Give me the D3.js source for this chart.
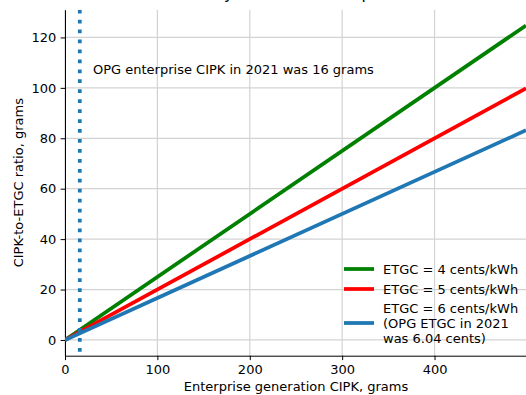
<!DOCTYPE html>
<html>
<head>
<meta charset="utf-8">
<script src="https://cdn.jsdelivr.net/npm/d3@7"></script>
<style>
  html, body { margin: 0; padding: 0; background: #fff; }
  svg { display: block; font-family: "DejaVu Sans", sans-serif; }
</style>
</head>
<body>
<svg id="chart" width="526" height="395"></svg>
<script>
// ---- data ----
const cipk = [0, 499];                 // enterprise generation CIPK, grams
const ratioEtgc4 = [0, 124.75];        // ETGC = 4 cents/kWh
const ratioEtgc5 = [0, 99.8];          // ETGC = 5 cents/kWh
const ratioEtgc6 = [0, 83.17];         // ETGC = 6 cents/kWh
const seriesNames = ["ETGC = 4 cents/kWh", "ETGC = 5 cents/kWh", "ETGC = 6 cents/kWh\n(OPG ETGC in 2021\nwas 6.04 cents)"];
const seriesColors = ["#008000", "#ff0000", "#1f77b4"];
const opgCipk2021 = 16;
const xTicks = [0, 100, 200, 300, 400];
const yTicks = [0, 20, 40, 60, 80, 100, 120];
const titleText = "Sensitivity of ratio to enterprise CIPK";
const annotationText = "OPG enterprise CIPK in 2021 was 16 grams";
const xLabel = "Enterprise generation CIPK, grams";
const yLabel = "CIPK-to-ETGC ratio, grams";

(function () {
const series = [ratioEtgc4, ratioEtgc5, ratioEtgc6].map((vals, i) => ({
  name: seriesNames[i], color: seriesColors[i],
  points: cipk.map((x, j) => [x, vals[j]])
}));

// ---- layout ----
const svg = d3.select("#chart");
const pL = 65, pR = 526, pT = 9.7, pB = 355.7;
const x = d3.scaleLinear().domain([0, 499]).range([pL, pR]);
const y = d3.scaleLinear().domain([-6.24, 131]).range([pB, pT]);
const fs = 13;

svg.append("defs").append("clipPath").attr("id", "clip")
  .append("rect").attr("x", pL).attr("y", pT).attr("width", pR - pL).attr("height", pB - pT);

// grid
const grid = svg.append("g").attr("stroke", "#d3d3d3").attr("stroke-width", 1.2);
grid.selectAll("line.gx").data(xTicks).join("line")
  .attr("x1", d => x(d)).attr("x2", d => x(d)).attr("y1", pT).attr("y2", pB);
grid.selectAll("line.gy").data(yTicks).join("line")
  .attr("x1", pL).attr("x2", pR).attr("y1", d => y(d)).attr("y2", d => y(d));

// axes
const xAxis = svg.append("g").attr("transform", `translate(0,${pB})`)
  .call(d3.axisBottom(x).tickValues(xTicks).tickSize(4.4).tickPadding(4.4).tickSizeOuter(0));
const yAxis = svg.append("g").attr("transform", `translate(${pL},0)`)
  .call(d3.axisLeft(y).tickValues(yTicks).tickSize(4.4).tickPadding(4.4).tickSizeOuter(0));
[xAxis, yAxis].forEach(a => {
  a.selectAll("text").attr("font-size", fs).attr("fill", "#000").attr("font-family", "DejaVu Sans");
  a.selectAll("line").attr("stroke", "#000").attr("stroke-width", 1);
  a.select(".domain").attr("stroke", "#000").attr("stroke-width", 1);
});
xAxis.selectAll("text").attr("dy", "0.71em");

// lines
const lineGen = d3.line().x(d => x(d[0])).y(d => y(d[1]));
const plot = svg.append("g").attr("clip-path", "url(#clip)");
plot.selectAll("path.series").data(series).join("path")
  .attr("fill", "none").attr("stroke", d => d.color).attr("stroke-width", 3.75)
  .attr("d", d => lineGen(d.points));

// vertical dotted line
plot.append("line")
  .attr("x1", x(opgCipk2021)).attr("x2", x(opgCipk2021))
  .attr("y1", pT).attr("y2", pB)
  .attr("stroke", "#1f77b4").attr("stroke-width", 3.75)
  .attr("stroke-dasharray", "3.75,6.2");

// annotation
svg.append("text").attr("x", 93).attr("y", 73.5).attr("font-size", fs).text(annotationText);

// title (mostly cut off at the top, as in the reference)
svg.append("text").attr("x", (pL + 527) / 2).attr("y", -1).attr("text-anchor", "middle")
  .attr("font-size", 15.6).text(titleText);

// axis labels
svg.append("text").attr("x", (pL + 527) / 2).attr("y", 391).attr("text-anchor", "middle")
  .attr("font-size", fs).text(xLabel);
svg.append("text").attr("transform", `translate(23,${(pT + pB) / 2}) rotate(-90)`)
  .attr("text-anchor", "middle").attr("font-size", fs).text(yLabel);

// legend
const legendRows = [269, 289, 323];
const lg = svg.append("g");
series.forEach((s, i) => {
  const cy = legendRows[i];
  lg.append("line").attr("x1", 344).attr("x2", 374).attr("y1", cy).attr("y2", cy)
    .attr("stroke", s.color).attr("stroke-width", 3.75);
  const lines = s.name.split("\n");
  const t = lg.append("text").attr("x", 383).attr("font-size", fs);
  const lh = 15;
  lines.forEach((ln, k) => {
    t.append("tspan").attr("x", 383)
      .attr("y", cy + (k - (lines.length - 1) / 2) * lh)
      .attr("dy", "0.35em").text(ln);
  });
});
})();
</script>
</body>
</html>
